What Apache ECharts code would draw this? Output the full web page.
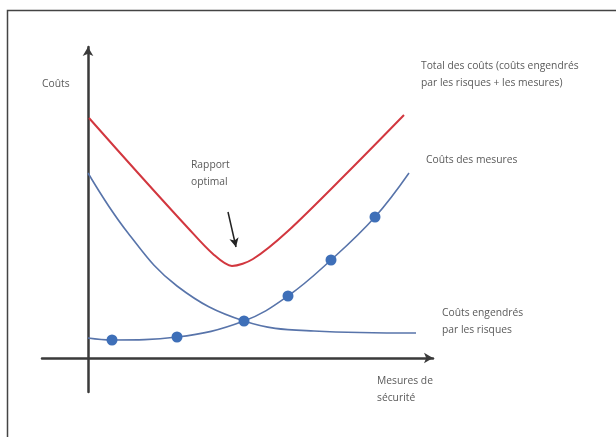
<!DOCTYPE html>
<html>
<head>
<meta charset="utf-8">
<script src="https://cdn.jsdelivr.net/npm/echarts@6/dist/echarts.min.js"></script>
<style>
  html, body { margin: 0; padding: 0; background: #fff; }
  #chart { width: 616px; height: 437px; }
</style>
</head>
<body>
<div id="chart"></div>
<script>
// conceptual curves, x = effort in security measures, y = cost (arbitrary units)
const totalCosts = [[1, 240], [50, 185], [100, 130], [125, 104], [144, 92], [165, 99],
  [200, 127], [260, 186], [316, 243]];
const riskCosts = [[0, 185], [40, 125], [89, 72], [156, 37], [226, 27], [328, 25]];
const measureCosts = [[0, 20], [24, 18], [89, 21], [156, 37], [200, 62], [243, 98],
  [287, 141], [321, 185]];
const measureDots = measureCosts.slice(1, -1);
const optimumArrow = [[140, 146], [148, 111]];

const font = '"Open Sans", "DejaVu Sans", sans-serif';
const textColor = '#5a5a5a';

function label(text, x, y) {
  return {
    type: 'text',
    x, y,
    style: {
      text, font: '10.3px ' + font, fill: textColor,
      verticalAlign: 'middle', lineHeight: 17
    }
  };
}

const chart = echarts.init(document.getElementById('chart'));

chart.setOption({
  animation: false,
  grid: { left: 42, right: 183, top: 47, bottom: 45 },
  xAxis: {
    type: 'value', min: -46, max: 345,
    axisLine: {
      onZero: true, symbol: ['none', 'arrow'], symbolSize: [8, 9],
      lineStyle: { color: '#3a3a3a', width: 2.5 }
    },
    axisTick: { show: false }, axisLabel: { show: false }, splitLine: { show: false }
  },
  yAxis: {
    type: 'value', min: -34, max: 311,
    axisLine: {
      onZero: true, symbol: ['none', 'arrow'], symbolSize: [8, 9],
      lineStyle: { color: '#3a3a3a', width: 2.5 }
    },
    axisTick: { show: false }, axisLabel: { show: false }, splitLine: { show: false }
  },
  series: [
    {
      name: 'Total des coûts', type: 'line', data: totalCosts,
      smooth: 0.3, showSymbol: false,
      lineStyle: { color: '#d2373f', width: 2 },
      markLine: {
        silent: true, symbol: ['none', 'arrow'], symbolSize: [7, 9],
        label: { show: false },
        lineStyle: { color: '#222', width: 1.5, type: 'solid' },
        data: [[{ coord: optimumArrow[0] }, { coord: optimumArrow[1] }]]
      }
    },
    {
      name: 'Coûts engendrés par les risques', type: 'line', data: riskCosts,
      smooth: 0.4, showSymbol: false,
      lineStyle: { color: '#5874aa', width: 1.6 }
    },
    {
      name: 'Coûts des mesures', type: 'line', data: measureCosts,
      smooth: 0.4, showSymbol: false,
      lineStyle: { color: '#5874aa', width: 1.6 }
    },
    {
      name: 'points', type: 'scatter', data: measureDots,
      symbolSize: 11, itemStyle: { color: '#3e6fb8', opacity: 1 }, z: 5
    }
  ],
  graphic: [
    {
      type: 'polyline', silent: true,
      shape: { points: [[7.5, 437], [7.5, 10.5], [616, 10.5]] },
      style: { stroke: '#444', lineWidth: 1.5, fill: null }
    },
    label('Coûts', 42, 84),
    label('Total des coûts (coûts engendrés\npar les risques + les mesures)', 421, 75),
    label('Coûts des mesures', 426, 160),
    label('Rapport\noptimal', 191, 174),
    label('Coûts engendrés\npar les risques', 442, 322),
    label('Mesures de\nsécurité', 377, 390)
  ]
});
</script>
</body>
</html>
